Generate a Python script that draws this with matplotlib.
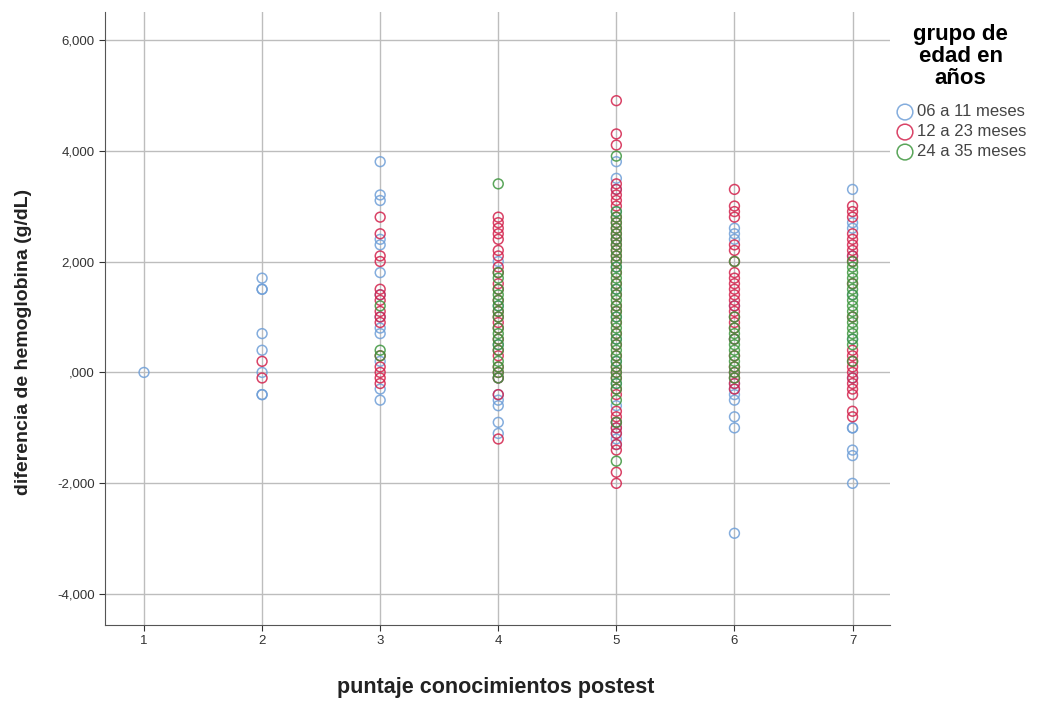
import matplotlib.pyplot as plt
from matplotlib.ticker import FuncFormatter

plt.rcParams['font.family'] = ['Liberation Sans', 'DejaVu Sans']

# puntaje (x) -> diferencia de hemoglobina (y) por grupo de edad
grupo_06_11 = {
    1: [0.0],
    2: [1.7, 1.5, 1.5, 0.7, 0.4, 0.0, -0.4, -0.4],
    3: [3.8, 3.2, 3.1, 2.4, 2.3, 1.8, 1.4, 1.0, 0.8, 0.7, 0.2, -0.3, -0.5],
    4: [2.0, 1.2, 0.5, -0.1, -0.4, -0.5, -0.6, -0.9, -1.1],
    5: [3.8, 3.5, 3.3, 2.9, 2.4, 1.9, 1.5, 1.0, 0.6, 0.2, -0.2, -0.6, -0.9,
        -1.0, -1.1, -1.2, -1.3],
    6: [2.6, 2.5, 2.4, 1.2, 0.6, -0.2, -0.3, -0.4, -0.5, -0.8, -1.0, -2.9],
    7: [3.3, 2.7, 2.6, 2.1, 1.4, 0.6, -0.1, -1.0, -1.0, -1.4, -1.5, -2.0],
}
grupo_12_23 = {
    2: [0.2, -0.1],
    3: [2.8, 2.5, 2.1, 2.0, 1.5, 1.4, 1.3, 1.1, 1.0, 0.9, 0.3, 0.1, 0.0,
        -0.1, -0.2],
    4: [2.8, 2.7, 2.6, 2.5, 2.4, 2.2, 2.1, 1.9, 1.8, 1.6, 1.5, 1.3, 1.1,
        1.0, 0.9, 0.8, 0.6, 0.4, 0.3, 0.1, 0.0, -0.1, -0.4, -1.2],
    5: [4.9, 4.3, 4.1, 3.4, 3.3, 3.2, 3.1, 3.0, 2.8, 2.7, 2.6, 2.5, 2.4,
        2.3, 2.2, 2.1, 2.0, 1.8, 1.6, 1.4, 1.2, 1.1, 0.9, 0.7, 0.5, 0.3,
        0.1, 0.0, -0.1, -0.3, -0.4, -0.7, -0.8, -0.9, -1.0, -1.1, -1.3,
        -1.4, -1.8, -2.0],
    6: [3.3, 3.0, 2.9, 2.8, 2.3, 2.2, 2.0, 1.8, 1.7, 1.6, 1.5, 1.4, 1.3,
        1.2, 1.1, 1.0, 0.9, 0.8, 0.6, 0.3, 0.1, 0.0, -0.1, -0.2, -0.3],
    7: [3.0, 2.9, 2.8, 2.5, 2.4, 2.3, 2.2, 2.1, 2.0, 1.6, 1.0, 0.4, 0.3,
        0.2, 0.1, 0.0, -0.1, -0.2, -0.3, -0.4, -0.7, -0.8],
}
grupo_24_35 = {
    3: [1.2, 0.4, 0.3],
    4: [3.4, 1.8, 1.7, 1.5, 1.4, 1.3, 1.2, 1.1, 1.0, 0.8, 0.7, 0.6, 0.5,
        0.4, 0.2, 0.1, 0.0, -0.1],
    5: [3.9, 2.9, 2.8, 2.7, 2.6, 2.5, 2.4, 2.3, 2.2, 2.1, 2.0, 1.9, 1.8,
        1.7, 1.6, 1.5, 1.4, 1.3, 1.2, 1.1, 1.0, 0.9, 0.8, 0.7, 0.6, 0.5,
        0.4, 0.3, 0.2, 0.1, 0.0, -0.1, -0.2, -0.3, -0.5, -0.9, -1.6],
    6: [2.0, 1.0, 0.8, 0.7, 0.6, 0.5, 0.4, 0.3, 0.2, 0.1, 0.0, -0.1],
    7: [2.0, 1.9, 1.8, 1.7, 1.6, 1.5, 1.4, 1.3, 1.2, 1.1, 1.0, 0.9, 0.8,
        0.7, 0.6, 0.5, 0.2],
}

grupos = [
    ('06 a 11 meses', grupo_06_11, '#6f9fd8'),
    ('12 a 23 meses', grupo_12_23, '#d3224c'),
    ('24 a 35 meses', grupo_24_35, '#3d963d'),
]
x_ticks = [1, 2, 3, 4, 5, 6, 7]
y_ticks = [-4, -2, 0, 2, 4, 6]

fig = plt.figure(figsize=(10.45, 7.02), dpi=100)
ax = fig.add_axes([0.1005, 0.110, 0.7515, 0.873])

for label, datos, color in grupos:
    xs = [x for x, ys in datos.items() for _ in ys]
    ys = [y for ys in datos.values() for y in ys]
    ax.scatter(xs, ys, s=50, facecolors='none', edgecolors=color,
               linewidths=1.1, alpha=0.85, label=label, zorder=3)

ax.set_xlim(0.67, 7.32)
ax.set_ylim(-4.55, 6.5)
ax.set_xticks(x_ticks)
ax.set_yticks(y_ticks)

def fmt(v, pos):
    if v == 0:
        return ',000'
    return '{:.3f}'.format(v).replace('.', ',')

ax.yaxis.set_major_formatter(FuncFormatter(fmt))
ax.tick_params(labelsize=9.5, colors='#333333', length=4)
ax.grid(True, color='#bdbdbd', linewidth=1, zorder=0)
ax.set_axisbelow(True)
for s in ['top', 'right']:
    ax.spines[s].set_visible(False)
for s in ['left', 'bottom']:
    ax.spines[s].set_color('#555555')

ax.set_xlabel('puntaje conocimientos postest', fontsize=15.5, fontweight='bold',
              color='#222222')
ax.set_ylabel('diferencia de hemoglobina (g/dL)', fontsize=14,
              fontweight='bold', color='#222222')
ax.xaxis.set_label_coords(0.497, -0.085)
ax.yaxis.set_label_coords(-0.093, 0.462)

leg = ax.legend(title='grupo de\nedad en\naños', loc='upper left',
                bbox_to_anchor=(0.99, 1.0), frameon=False, fontsize=12,
                handletextpad=0.1, borderaxespad=0.3, labelspacing=0.3,
                handlelength=1.3, markerscale=1.6)
leg.get_title().set_fontweight('bold')
leg.get_title().set_fontsize(16)
leg.get_title().set_multialignment('center')
leg.get_title().set_linespacing(1.08)
leg._legend_box.align = 'center'
leg._legend_box.sep = 11
for t in leg.get_texts():
    t.set_color('#444444')

fig.savefig('out.png', dpi=100)
